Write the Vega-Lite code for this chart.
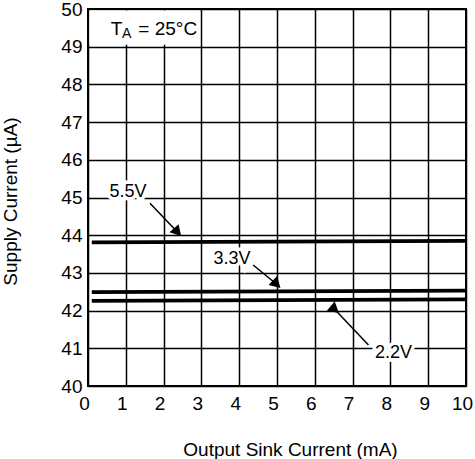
{
  "$schema": "https://vega.github.io/schema/vega-lite/v6.json",
  "width": 378,
  "height": 377,
  "autosize": "none",
  "padding": {"left": 88, "top": 9, "right": 9, "bottom": 73},
  "background": "white",
  "config": {
    "font": "Liberation Sans",
    "view": {"stroke": "black", "strokeWidth": 2},
    "axis": {
      "domain": false,
      "ticks": false,
      "grid": true,
      "zindex": 0,
      "gridColor": "black",
      "gridOpacity": 1,
      "gridWidth": 1.5,
      "labelOverlap": false,
      "labelFlush": false,
      "labelFont": "Liberation Sans",
      "labelFontSize": 19,
      "labelColor": "black",
      "titleFont": "Liberation Sans",
      "titleFontSize": 19,
      "titleFontWeight": "normal",
      "titleColor": "black"
    },
    "axisX": {
      "values": [0, 1, 2, 3, 4, 5, 6, 7, 8, 9, 10],
      "labelPadding": 8,
      "labelOffset": -4,
      "titleX": 202,
      "titleY": 69,
      "titleBaseline": "alphabetic"
    },
    "axisY": {
      "values": [40, 41, 42, 43, 44, 45, 46, 47, 48, 49, 50],
      "labelPadding": 6,
      "titleX": -78,
      "titleY": 192,
      "titleAlign": "center",
      "titleBaseline": "middle"
    }
  },
  "datasets": {
    "curves": [
      {"vdd": "5.5V", "current": 0.1, "supply": 43.81},
      {"vdd": "5.5V", "current": 5, "supply": 43.83},
      {"vdd": "5.5V", "current": 10, "supply": 43.85},
      {"vdd": "3.3V", "current": 0.1, "supply": 42.49},
      {"vdd": "3.3V", "current": 5, "supply": 42.51},
      {"vdd": "3.3V", "current": 10, "supply": 42.53},
      {"vdd": "2.2V", "current": 0.1, "supply": 42.26},
      {"vdd": "2.2V", "current": 5, "supply": 42.28},
      {"vdd": "2.2V", "current": 10, "supply": 42.3}
    ],
    "notes": [
      {"label": "5.5V", "tx": 1.06, "ty": 45.15, "ax": 1.64, "ay": 44.85, "hx": 2.37, "hy": 44.08},
      {"label": "3.3V", "tx": 3.81, "ty": 43.36, "ax": 4.37, "ay": 43.21, "hx": 4.99, "hy": 42.7},
      {"label": "2.2V", "tx": 8.08, "ty": 40.88, "ax": 7.42, "ay": 41.09, "hx": 6.53, "hy": 42.03}
    ],
    "one": [{}]
  },
  "layer": [
    {
      "data": {"name": "curves"},
      "mark": {"type": "line", "color": "black", "strokeWidth": 3.8},
      "encoding": {
        "x": {
          "field": "current",
          "type": "quantitative",
          "scale": {"domain": [0, 10], "nice": false},
          "title": "Output Sink Current (mA)"
        },
        "y": {
          "field": "supply",
          "type": "quantitative",
          "scale": {"domain": [40, 50], "nice": false, "zero": false},
          "title": "Supply Current (µA)"
        },
        "detail": {"field": "vdd"}
      }
    },
    {
      "data": {"name": "one"},
      "mark": {"type": "rect", "fill": "white"},
      "encoding": {
        "x": {"datum": 0.04, "type": "quantitative", "title": "Output Sink Current (mA)"},
        "x2": {"datum": 2.95},
        "y": {"datum": 49.05, "type": "quantitative", "title": "Supply Current (µA)"},
        "y2": {"datum": 49.96}
      }
    },
    {
      "data": {"name": "one"},
      "mark": {"type": "text", "align": "left", "baseline": "alphabetic", "fontSize": 19, "color": "black"},
      "encoding": {
        "x": {"datum": 0.6, "type": "quantitative", "title": "Output Sink Current (mA)"},
        "y": {"datum": 49.31, "type": "quantitative", "title": "Supply Current (µA)"},
        "text": {"value": "T"}
      }
    },
    {
      "data": {"name": "one"},
      "mark": {"type": "text", "align": "left", "baseline": "alphabetic", "fontSize": 14, "color": "black"},
      "encoding": {
        "x": {"datum": 0.9, "type": "quantitative", "title": "Output Sink Current (mA)"},
        "y": {"datum": 49.22, "type": "quantitative", "title": "Supply Current (µA)"},
        "text": {"value": "A"}
      }
    },
    {
      "data": {"name": "one"},
      "mark": {"type": "text", "align": "left", "baseline": "alphabetic", "fontSize": 19, "color": "black"},
      "encoding": {
        "x": {"datum": 1.33, "type": "quantitative", "title": "Output Sink Current (mA)"},
        "y": {"datum": 49.31, "type": "quantitative", "title": "Supply Current (µA)"},
        "text": {"value": "= 25°C"}
      }
    },
    {
      "data": {"name": "notes"},
      "mark": {"type": "rule", "color": "black", "strokeWidth": 1.5},
      "encoding": {
        "x": {"field": "ax", "type": "quantitative", "title": "Output Sink Current (mA)"},
        "y": {"field": "ay", "type": "quantitative", "title": "Supply Current (µA)"},
        "x2": {"field": "hx"},
        "y2": {"field": "hy"}
      }
    },
    {
      "data": {"name": "notes"},
      "mark": {"type": "point", "shape": "triangle-up", "filled": true, "color": "black", "opacity": 1, "size": 150},
      "encoding": {
        "x": {"field": "hx", "type": "quantitative", "title": "Output Sink Current (mA)"},
        "y": {"field": "hy", "type": "quantitative", "title": "Supply Current (µA)"},
        "angle": {
          "field": "label",
          "type": "nominal",
          "scale": {"domain": ["5.5V", "3.3V", "2.2V"], "range": [138, 130, 317]},
          "legend": null
        }
      }
    },
    {
      "data": {"name": "notes"},
      "mark": {"type": "text", "fontSize": 18, "baseline": "middle", "stroke": "white", "strokeWidth": 7, "fill": "white"},
      "encoding": {
        "x": {"field": "tx", "type": "quantitative", "title": "Output Sink Current (mA)"},
        "y": {"field": "ty", "type": "quantitative", "title": "Supply Current (µA)"},
        "text": {"field": "label"}
      }
    },
    {
      "data": {"name": "notes"},
      "mark": {"type": "text", "fontSize": 18, "baseline": "middle", "color": "black"},
      "encoding": {
        "x": {"field": "tx", "type": "quantitative", "title": "Output Sink Current (mA)"},
        "y": {"field": "ty", "type": "quantitative", "title": "Supply Current (µA)"},
        "text": {"field": "label"}
      }
    }
  ]
}
